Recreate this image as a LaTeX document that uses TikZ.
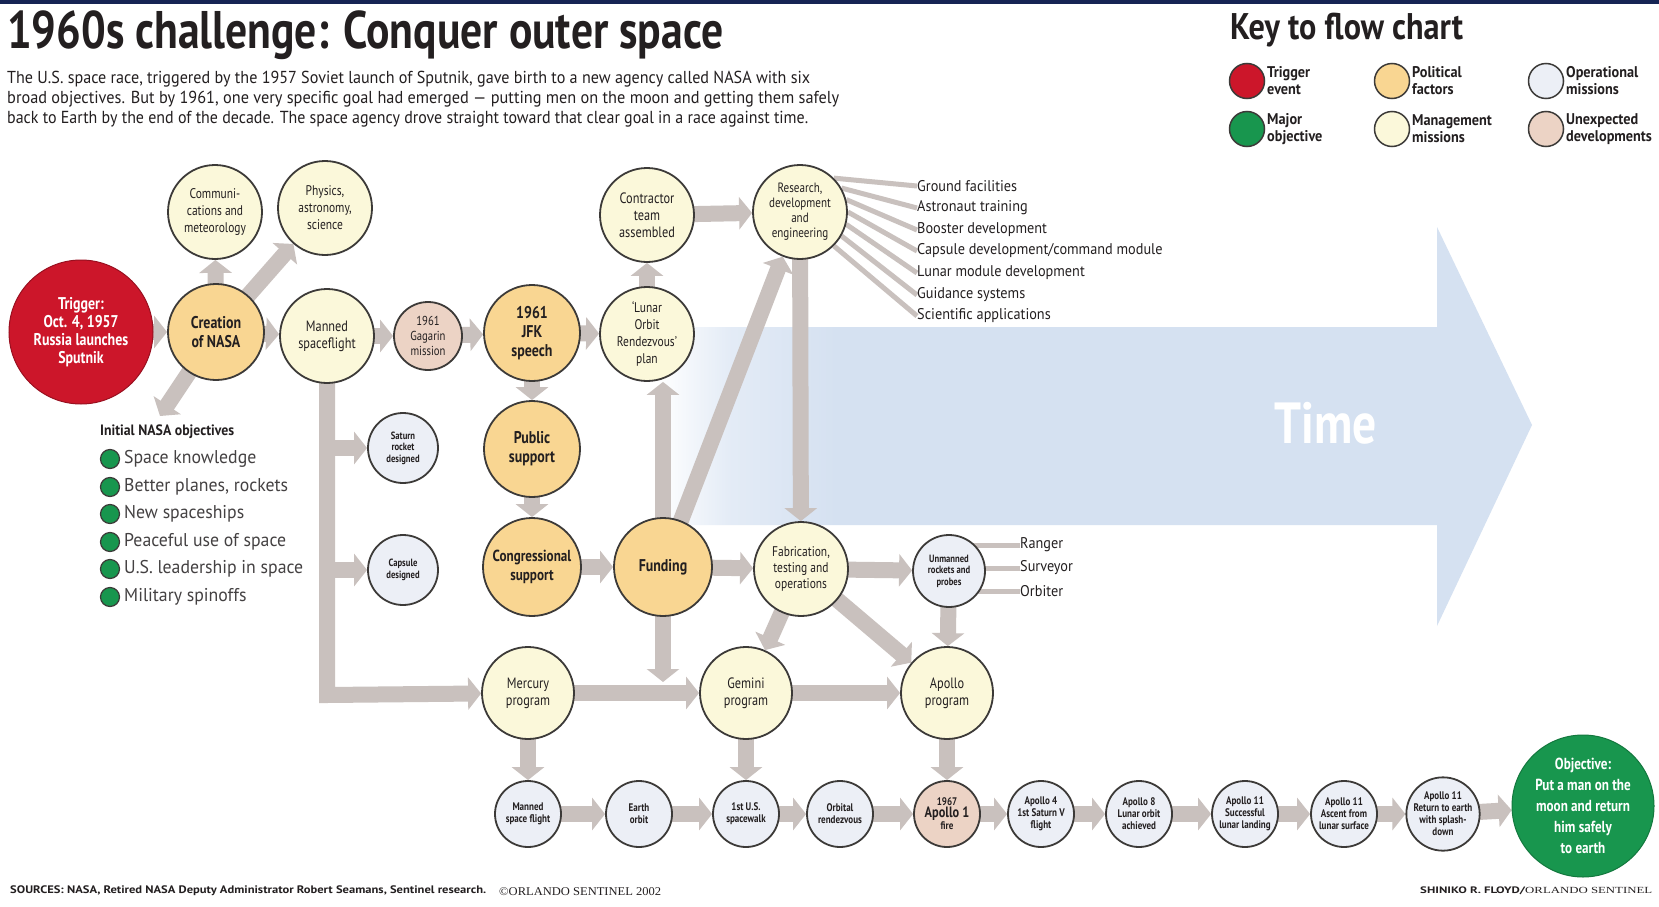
\documentclass[tikz,border=0pt]{standalone}
\usepackage{fontspec}
\setmainfont{PT Sans}
\newfontfamily\cnd[FakeStretch=0.82]{PT Sans}
\newfontfamily\semicnd[FakeStretch=0.92]{PT Sans}
\newfontfamily\widecnd[FakeStretch=0.96]{PT Sans}
\newfontfamily\serifsmall{Liberation Serif}
\usetikzlibrary{arrows.meta}
\definecolor{navy}{RGB}{22,36,84}
\definecolor{trig}{RGB}{204,22,42}
\definecolor{majobj}{RGB}{24,150,78}
\definecolor{polit}{RGB}{249,214,146}
\definecolor{mgmt}{RGB}{251,248,218}
\definecolor{oper}{RGB}{236,239,246}
\definecolor{unexp}{RGB}{236,211,197}
\definecolor{outl}{RGB}{60,58,56}
\definecolor{agray}{RGB}{201,193,190}
\definecolor{timeblue}{RGB}{213,225,241}
\definecolor{txt}{RGB}{35,31,32}
\colorlet{timemid}{timeblue!65}
\pgfdeclarelayer{timelayer}
\pgfdeclarelayer{arrowlayer}
\pgfsetlayers{timelayer,arrowlayer,main}
\pgfdeclarehorizontalshading{timeshade}{100bp}{color(0bp)=(white); color(26bp)=(white); color(30bp)=(timemid); color(36bp)=(timeblue); color(100bp)=(timeblue)}
\tikzset{
  bub/.style={circle, draw=outl, line width=1.8pt, inner sep=0pt, align=center, text=txt},
  mgnode/.style={bub, minimum size=94pt, fill=mgmt, font=\cnd\fontsize{15}{17}\selectfont},
  polnode/.style={bub, minimum size=96pt, fill=polit, font=\cnd\bfseries\fontsize{17}{19}\selectfont},
  opnode/.style={bub, minimum size=70pt, fill=oper, font=\cnd\bfseries\fontsize{10.5}{11.5}\selectfont},
  rownode/.style={bub, minimum size=66pt, fill=oper, font=\cnd\bfseries\fontsize{11}{12}\selectfont},
  unnode/.style={bub, minimum size=68pt, fill=unexp, font=\cnd\fontsize{13}{15}\selectfont},
  keyc/.style={circle, draw=outl, line width=1.5pt, minimum size=35pt, inner sep=0pt},
  keylab/.style={anchor=west, inner sep=0pt, align=left, text=txt, font=\semicnd\bfseries\fontsize{15.5}{17}\selectfont},
  listlab/.style={anchor=west, inner sep=0pt, text=txt, font=\semicnd\fontsize{15.5}{17}\selectfont},
  objlab/.style={anchor=west, inner sep=0pt, text=txt!85, font=\widecnd\fontsize{18.5}{20}\selectfont},
  objdot/.style={circle, draw=outl, line width=1.2pt, fill=majobj, minimum size=19pt, inner sep=0pt},
  garrow/.style={draw=agray, line width=16pt, shorten <=-3pt, -{Triangle[width=32pt,length=13pt]}},
  gline/.style={draw=agray, line width=5pt},
  plain/.style={anchor=north west, inner sep=0pt, text=txt}
}
\begin{document}
\begin{tikzpicture}[x=1pt, y=-1pt]
\useasboundingbox (0,0) rectangle (1659,907);
\begin{pgfonlayer}{timelayer}
  \fill[white] (0,0) rectangle (1659,907);
  \fill[navy] (0,0) rectangle (1659,4);
  \shade[shading=timeshade] (640,327) -- (1437,327) -- (1437,227) -- (1532,425) -- (1437,626) -- (1437,525) -- (640,525) -- cycle;
\end{pgfonlayer}

% titles and texts
\node[plain] (title) at (7,11) {\resizebox*{716pt}{49pt}{\bfseries 1960s challenge: Conquer outer space}};
\node[plain] (intro1) at (7,71) {\resizebox*{803pt}{16pt}{The U.S. space race, triggered by the 1957 Soviet launch of Sputnik, gave birth to a new agency called NASA with six}};
\node[plain] (intro2) at (7,91) {\resizebox*{832pt}{16pt}{broad objectives. But by 1961, one very specific goal had emerged — putting men on the moon and getting them safely}};
\node[plain] (intro3) at (7,111) {\resizebox*{801pt}{16pt}{back to Earth by the end of the decade. The space agency drove straight toward that clear goal in a race against time.}};
\node[plain] (keytitle) at (1230,13) {\resizebox*{233pt}{34pt}{\bfseries Key to flow chart}};

% key
\node[keyc, fill=trig] (k1) at (1247,81) {};
\node[keylab] (k1t) at (1267,81) {Trigger\\event};
\node[keyc, fill=majobj] (k2) at (1247,129) {};
\node[keylab] (k2t) at (1267,129) {Major\\objective};
\node[keyc, fill=polit] (k3) at (1392,81) {};
\node[keylab] (k3t) at (1412,81) {Political\\factors};
\node[keyc, fill=mgmt] (k4) at (1392,129) {};
\node[keylab] (k4t) at (1412,129) {Management\\missions};
\node[keyc, fill=oper] (k5) at (1546,81) {};
\node[keylab] (k5t) at (1566,81) {Operational\\missions};
\node[keyc, fill=unexp] (k6) at (1546,129) {};
\node[keylab] (k6t) at (1566,129) {Unexpected\\developments};

% Time label
\node[text=white, font=\cnd\bfseries\fontsize{58}{60}\selectfont] (time) at (1326,423) {Time};

% main nodes
\node[circle, fill=trig, draw=trig!75!black, line width=1pt, minimum size=144pt, inner sep=0pt, align=center, text=white, font=\cnd\bfseries\fontsize{17}{18}\selectfont] (trig) at (81,332) {Trigger:\\Oct. 4, 1957\\Russia launches\\Sputnik};
\node[polnode] (crea) at (216,332) {Creation\\of NASA};
\node[mgnode, font=\cnd\fontsize{14}{17}\selectfont] (comm) at (215,212) {Communi-\\cations and\\meteorology};
\node[mgnode, font=\cnd\fontsize{14}{17}\selectfont] (phys) at (325,208) {Physics,\\astronomy,\\science};
\node[mgnode] (mann) at (327,336) {Manned\\spaceflight};
\node[unnode] (gaga) at (428,336) {1961\\Gagarin\\mission};
\node[polnode] (jfk) at (532,333) {1961\\JFK\\speech};
\node[mgnode, font=\cnd\fontsize{14}{17}\selectfont] (lor) at (647,334) {‘Lunar\\Orbit\\Rendezvous’\\plan};
\node[mgnode] (cont) at (647,215) {Contractor\\team\\assembled};
\node[mgnode, font=\cnd\fontsize{13.5}{15}\selectfont] (rde) at (800,212) {Research,\\development\\and\\engineering};
\node[opnode] (sat) at (403,448) {Saturn\\rocket\\designed};
\node[opnode] (cap) at (403,570) {Capsule\\designed};
\node[polnode] (pub) at (532,449) {Public\\support};
\node[polnode, minimum size=98pt, font=\cnd\bfseries\fontsize{16}{19}\selectfont] (cong) at (532,567) {Congressional\\support};
\node[polnode, minimum size=98pt] (fund) at (663,567) {Funding};
\node[mgnode, font=\cnd\fontsize{14}{16}\selectfont] (fab) at (801,569) {Fabrication,\\testing and\\operations};
\node[opnode, minimum size=72pt] (unm) at (949,571) {Unmanned\\rockets and\\probes};
\node[mgnode, minimum size=92pt] (merc) at (528,693) {Mercury\\program};
\node[mgnode, minimum size=92pt] (gem) at (746,693) {Gemini\\program};
\node[mgnode, minimum size=92pt] (apo) at (947,693) {Apollo\\program};

% bottom row
\node[rownode] (b1) at (528,814) {Manned\\space flight};
\node[rownode] (b2) at (639,814) {Earth\\orbit};
\node[rownode] (b3) at (746,814) {1st U.S.\\spacewalk};
\node[rownode] (b4) at (840,814) {Orbital\\rendezvous};
\node[rownode, fill=unexp] (b5) at (947,814) {1967\\{\fontsize{15}{15}\selectfont Apollo 1}\\fire};
\node[rownode] (b6) at (1041,814) {Apollo 4\\1st Saturn V\\flight};
\node[rownode] (b7) at (1139,814) {Apollo 8\\Lunar orbit\\achieved};
\node[rownode] (b8) at (1245,814) {Apollo 11\\Successful\\lunar landing};
\node[rownode] (b9) at (1344,814) {Apollo 11\\Ascent from\\lunar surface};
\node[rownode] (b10) at (1443,814) {Apollo 11\\Return to earth\\with splash-\\down};
\node[circle, fill=majobj, draw=majobj!80!black, line width=1pt, minimum size=142pt, inner sep=0pt, align=center, text=white, font=\cnd\bfseries\fontsize{16}{21}\selectfont] (obj) at (1583,806) {Objective:\\Put a man on the\\moon and return\\him safely\\to earth};

% research list
\node[listlab] (r1) at (917,186) {Ground facilities};
\node[listlab] (r2) at (917,208) {Astronaut training};
\node[listlab] (r3) at (917,230) {Booster development};
\node[listlab] (r4) at (917,251) {Capsule development/command module};
\node[listlab] (r5) at (917,273) {Lunar module development};
\node[listlab] (r6) at (917,295) {Guidance systems};
\node[listlab] (r7) at (917,316) {Scientific applications};

% unmanned list
\node[listlab] (u1) at (1020,545) {Ranger};
\node[listlab] (u2) at (1020,568) {Surveyor};
\node[listlab] (u3) at (1020,591) {Orbiter};

% objectives list
\node[anchor=west, inner sep=0pt, text=txt, font=\semicnd\bfseries\fontsize{15}{16}\selectfont] (objh) at (100,432) {Initial NASA objectives};
\foreach \i/\yy/\t in {1/459/Space knowledge, 2/487/{Better planes, rockets}, 3/514/New spaceships, 4/542/Peaceful use of space, 5/569/U.S. leadership in space, 6/597/Military spinoffs}{
  \node[objdot] (d\i) at (110,\yy) {};
  \node[objlab] (o\i) at (124,\yy) {\t};
}

% footer
\node[plain] (src) at (10,886) {\resizebox*{476pt}{10pt}{\bfseries SOURCES: NASA, Retired NASA Deputy Administrator Robert Seamans, Sentinel research.}};
\node[plain] (copy) at (499,887) {\resizebox*{162pt}{8pt}{\serifsmall ©ORLANDO SENTINEL 2002}};
\node[plain] (cred) at (1420,887) {\resizebox*{232pt}{8pt}{\bfseries SHINIKO R. FLOYD/\serifsmall\mdseries ORLANDO SENTINEL}};

% connector helper coordinates
\coordinate (objpt) at (160,416);
\coordinate (bend) at (327,695);
\coordinate (brsat) at (327,448);
\coordinate (brcap) at (327,570);
\coordinate (fundend) at (663,682);

\begin{pgfonlayer}{arrowlayer}
  \draw[garrow] (trig) -- (crea);
  \draw[garrow] (crea) -- (comm);
  \draw[garrow] (crea) -- (phys);
  \draw[garrow] (crea) -- (mann);
  \draw[garrow] (crea) -- (objpt);
  \draw[garrow] (mann) -- (gaga);
  \draw[garrow] (gaga) -- (jfk);
  \draw[garrow] (jfk) -- (lor);
  \draw[garrow] (lor) -- (cont);
  \draw[garrow] (cont) -- (rde);
  \draw[garrow] (jfk) -- (pub);
  \draw[garrow] (pub) -- (cong);
  \draw[garrow] (cong) -- (fund);
  \draw[garrow] (fund.north) -- (fund.north |- lor.south);
  \draw[garrow] (fund) -- (rde);
  \draw[garrow] (rde) -- (fab);
  \draw[garrow] (fund) -- (fab);
  \draw[garrow] (fund) -- (fundend);
  \draw[garrow] (fab) -- (unm);
  \draw[garrow] (fab) -- (gem);
  \draw[garrow] (fab) -- (apo);
  \draw[garrow] (unm) -- (apo);
  \draw[garrow] (mann) -- (bend) -- (merc);
  \draw[garrow] (brsat) -- (sat);
  \draw[garrow] (brcap) -- (cap);
  \draw[garrow] (merc) -- (gem);
  \draw[garrow] (gem) -- (apo);
  \draw[garrow] (merc) -- (b1);
  \draw[garrow] (gem) -- (b3);
  \draw[garrow] (apo) -- (b5);
  \draw[garrow] (b1) -- (b2);
  \draw[garrow] (b2) -- (b3);
  \draw[garrow] (b3) -- (b4);
  \draw[garrow] (b4) -- (b5);
  \draw[garrow] (b5) -- (b6);
  \draw[garrow] (b6) -- (b7);
  \draw[garrow] (b7) -- (b8);
  \draw[garrow] (b8) -- (b9);
  \draw[garrow] (b9) -- (b10);
  \draw[garrow] (b10) -- (obj);
  % research fan
  \draw[gline] (rde.45) -- (r1.west);
  \draw[gline] (rde.30) -- (r2.west);
  \draw[gline] (rde.15) -- (r3.west);
  \draw[gline] (rde.0) -- (r4.west);
  \draw[gline] (rde.-15) -- (r5.west);
  \draw[gline] (rde.-30) -- (r6.west);
  \draw[gline] (rde.-45) -- (r7.west);
  % unmanned lines
  \draw[gline] (unm.center |- u1.west) -- (u1.west);
  \draw[gline] (unm.center |- u2.west) -- (u2.west);
  \draw[gline] (unm.center |- u3.west) -- (u3.west);
\end{pgfonlayer}
\end{tikzpicture}
\end{document}
